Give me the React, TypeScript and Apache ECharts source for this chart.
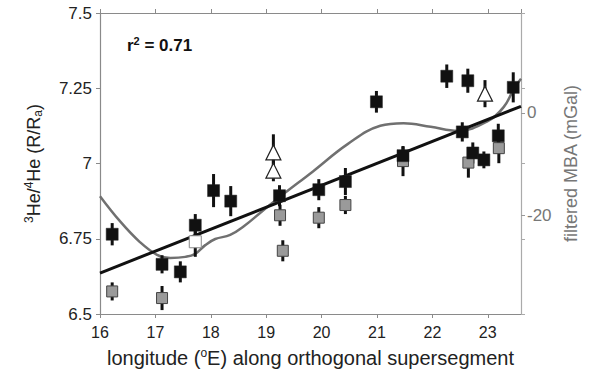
import React, { useEffect, useRef } from "react";
import * as echarts from "echarts";

// [longitude, 3He/4He, error]
const blackSamples: number[][] = [
  [16.22, 6.765, 0.037],
  [17.12, 6.665, 0.03],
  [17.45, 6.64, 0.035],
  [17.72, 6.795, 0.037],
  [18.05, 6.91, 0.055],
  [18.36, 6.875, 0.05],
  [19.24, 6.893, 0.035],
  [19.95, 6.913, 0.035],
  [20.43, 6.94, 0.045],
  [20.99, 7.205, 0.036],
  [21.47, 7.026, 0.03],
  [22.26, 7.29, 0.039],
  [22.64, 7.275, 0.04],
  [22.54, 7.105, 0.032],
  [22.73, 7.035, 0.035],
  [22.93, 7.012, 0.028],
  [23.19, 7.092, 0.04],
  [23.46, 7.253, 0.05],
];

const graySamples: number[][] = [
  [16.22, 6.575, 0.03],
  [17.12, 6.553, 0.04],
  [19.25, 6.828, 0.035],
  [19.3, 6.71, 0.035],
  [19.95, 6.82, 0.035],
  [20.43, 6.862, 0.03],
  [21.47, 7.008, 0.05],
  [22.65, 7.003, 0.05],
  [23.2, 7.051, 0.05],
];

const whiteSquares: number[][] = [[17.72, 6.74, 0.05]];

const whiteTriangles: number[][] = [
  [19.13, 7.037, 0.06],
  [19.13, 6.976, 0.035],
  [22.95, 7.232, 0.045],
];

const regressionLine: number[][] = [
  [16, 6.636],
  [23.6, 7.19],
];

// [longitude, filtered MBA (mGal)]
const mbaCurve: number[][] = [
  [16.0, -16.3], [16.36, -21.2], [16.72, -25.3], [17.03, -27.8], [17.27, -28.4],
  [17.54, -28.2], [17.72, -27.6], [17.9, -25.9], [18.08, -24.7], [18.35, -23.9],
  [18.62, -22.0], [18.89, -19.6], [19.24, -16.5], [19.85, -11.4], [20.47, -6.1],
  [21.06, -2.5], [21.48, -2.0], [21.97, -2.7], [22.46, -3.5], [23.0, -1.6],
  [23.29, 1.2], [23.47, 4.7], [23.6, 6.7],
];

const xRange = [16, 23.6];
const leftRange = [6.5, 7.5];
const rightRange = [-39.4, 19.6];
const rightTicks = [-20, 0];

const FONT = "'Liberation Sans', Arial, Helvetica, sans-serif";

function errorBars(data: number[][], name: string) {
  return {
    type: "custom",
    name,
    xAxisIndex: 0,
    yAxisIndex: 0,
    data,
    encode: { x: 0, y: 1 },
    z: 3,
    renderItem: (params: any, api: any) => {
      const x = api.value(0);
      const y = api.value(1);
      const e = api.value(2);
      const p1 = api.coord([x, y + e]);
      const p2 = api.coord([x, y - e]);
      return {
        type: "line",
        shape: { x1: p1[0], y1: p1[1], x2: p2[0], y2: p2[1] },
        style: { stroke: "#111", lineWidth: 3 },
      };
    },
  };
}

export default function App() {
  const ref = useRef<HTMLDivElement>(null);
  useEffect(() => {
    document.body.style.margin = "0";
    const chart = echarts.init(ref.current!, null, { renderer: "svg" });
    const axisGray = "#8a8a8a";
    chart.setOption({
      animation: false,
      backgroundColor: "#fff",
      textStyle: { fontFamily: FONT },
      grid: { left: 100, right: 68, top: 13, bottom: 58 },
      graphic: [
        {
          type: "text",
          left: 127,
          top: 35,
          style: {
            text: "{b|r}{s|2}{b| = 0.71}",
            rich: {
              b: { fontSize: 17, fontWeight: "bold", fill: "#111", fontFamily: FONT },
              s: { fontSize: 11, fontWeight: "bold", fill: "#111", fontFamily: FONT, padding: [0, 0, 9, 0] },
            },
          },
        },
      ],
      xAxis: [
        {
          type: "value",
          position: "bottom",
          min: xRange[0],
          max: xRange[1],
          interval: 1,
          splitLine: { show: false },
          axisLine: { onZero: false, lineStyle: { color: axisGray, width: 1.2 } },
          axisTick: { inside: false, length: 4, lineStyle: { color: axisGray } },
          axisLabel: { fontSize: 16, color: "#222", margin: 10, fontFamily: FONT, showMaxLabel: false },
          name: "longitude ({s|o}E) along orthogonal supersegment",
          nameLocation: "middle",
          nameGap: 33,
          nameTextStyle: {
            fontSize: 20,
            color: "#222",
            fontFamily: FONT,
            rich: {
              s: { fontSize: 12, color: "#222", fontFamily: FONT, padding: [0, 0, 10, 0] },
            },
          },
        },
        {
          type: "value",
          position: "top",
          min: xRange[0],
          max: xRange[1],
          interval: 1,
          splitLine: { show: false },
          axisLine: { show: true, onZero: false, lineStyle: { color: axisGray, width: 1.2 } },
          axisTick: { inside: false, length: 4, lineStyle: { color: axisGray } },
          axisLabel: { show: false },
        },
      ],
      yAxis: [
        {
          type: "value",
          position: "left",
          min: leftRange[0],
          max: leftRange[1],
          interval: 0.25,
          splitLine: { show: false },
          axisLine: { show: true, onZero: false, lineStyle: { color: axisGray, width: 1.2 } },
          axisTick: { show: true, inside: false, length: 4, lineStyle: { color: axisGray } },
          axisLabel: { fontSize: 17, color: "#222", margin: 8, fontFamily: FONT },
          name: "{s|3}He/{s|4}He (R/R{u|a})",
          nameLocation: "middle",
          nameGap: 56,
          nameRotate: 90,
          nameTextStyle: {
            fontSize: 18,
            color: "#222",
            fontFamily: FONT,
            rich: {
              s: { fontSize: 12, color: "#222", fontFamily: FONT, padding: [0, 0, 9, 0] },
              u: { fontSize: 12, color: "#222", fontFamily: FONT, padding: [8, 0, 0, 0] },
            },
          },
        },
        {
          type: "value",
          position: "right",
          min: rightRange[0],
          max: rightRange[1],
          splitLine: { show: false },
          axisLine: { show: true, onZero: false, lineStyle: { color: "#aaa", width: 1.2 } },
          axisTick: { show: true, inside: false, length: 4, customValues: rightTicks, lineStyle: { color: "#999" } },
          axisLabel: { fontSize: 17, color: "#777", margin: 6, customValues: rightTicks, fontFamily: FONT },
          name: "filtered MBA (mGal)",
          nameLocation: "middle",
          nameGap: 40,
          nameRotate: 90,
          nameTextStyle: { fontSize: 18, color: "#777", fontFamily: FONT },
        },
        {
          type: "value",
          position: "right",
          min: leftRange[0],
          max: leftRange[1],
          interval: 0.25,
          splitLine: { show: false },
          axisLine: { show: false, onZero: false },
          axisTick: { show: true, inside: false, length: 4, lineStyle: { color: "#aaa" } },
          axisLabel: { show: false },
        },
      ],
      series: [
        {
          type: "line",
          name: "filtered MBA",
          xAxisIndex: 0,
          yAxisIndex: 1,
          data: mbaCurve,
          smooth: 0.4,
          showSymbol: false,
          lineStyle: { color: "#707070", width: 2.5 },
          z: 1,
        },
        {
          type: "line",
          name: "regression",
          xAxisIndex: 0,
          yAxisIndex: 0,
          data: regressionLine,
          showSymbol: false,
          lineStyle: { color: "#111", width: 3 },
          z: 2,
        },
        errorBars(blackSamples, "black err"),
        errorBars(graySamples, "gray err"),
        errorBars(whiteSquares, "white err"),
        errorBars(whiteTriangles, "triangle err"),
        {
          type: "scatter",
          name: "gray",
          xAxisIndex: 0,
          yAxisIndex: 0,
          data: graySamples.map((d) => [d[0], d[1]]),
          symbol: "rect",
          symbolSize: [11, 11],
          itemStyle: { color: "#9a9a9a", borderColor: "#444", borderWidth: 1, opacity: 1 },
          z: 4,
        },
        {
          type: "scatter",
          name: "black",
          xAxisIndex: 0,
          yAxisIndex: 0,
          data: blackSamples.map((d) => [d[0], d[1]]),
          symbol: "rect",
          symbolSize: [12, 12],
          itemStyle: { color: "#111", borderColor: "#222", borderWidth: 0.5, opacity: 1 },
          z: 5,
        },
        {
          type: "scatter",
          name: "white",
          xAxisIndex: 0,
          yAxisIndex: 0,
          data: whiteSquares.map((d) => [d[0], d[1]]),
          symbol: "rect",
          symbolSize: [12, 12],
          itemStyle: { color: "#fff", borderColor: "#888", borderWidth: 1, opacity: 1 },
          z: 5,
        },
        {
          type: "scatter",
          name: "triangles",
          xAxisIndex: 0,
          yAxisIndex: 0,
          data: whiteTriangles.map((d) => [d[0], d[1]]),
          symbol: "triangle",
          symbolSize: [15, 15],
          itemStyle: { color: "#fff", borderColor: "#222", borderWidth: 1.2, opacity: 1 },
          z: 5,
        },
      ],
    });
    return () => chart.dispose();
  }, []);
  return (
    <div
      ref={ref}
      style={{ position: "absolute", left: 0, top: 0, width: 589, height: 373 }}
    />
  );
}
